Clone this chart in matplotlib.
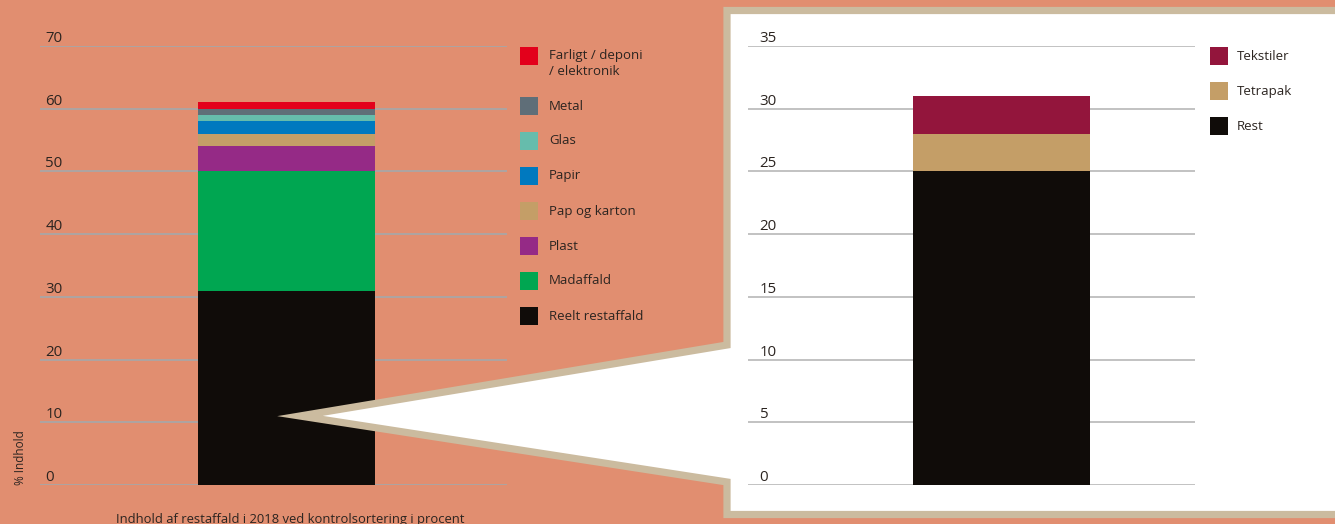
import matplotlib.pyplot as plt
from matplotlib.patches import Polygon, Rectangle
from matplotlib.transforms import blended_transform_factory

plt.rcParams['font.family'] = ['Open Sans', 'DejaVu Sans']

# venstre søjle: indhold af restaffald (nederst -> øverst)
kategorier = ["Reelt restaffald", "Madaffald", "Plast", "Pap og karton", "Papir",
              "Glas", "Metal", "Farligt / deponi\n/ elektronik"]
andele = [31, 19, 4, 2, 2, 1, 1, 1]
farver = ["#100C09", "#00A651", "#952A86", "#C49E67", "#0079BF",
          "#66BCAC", "#5F6E78", "#E3001B"]
venstre_ticks = [0, 10, 20, 30, 40, 50, 60, 70]

# højre søjle: fordeling af reelt restaffald
rest_kategorier = ["Rest", "Tetrapak", "Tekstiler"]
rest_andele = [25, 3, 3]
rest_farver = ["#100C09", "#C49E67", "#93153C"]
hojre_ticks = [0, 5, 10, 15, 20, 25, 30, 35]

BG = "#E18E70"
TXT = "#2b2420"
W, H = 1335, 524

fig = plt.figure(figsize=(W / 100, H / 100), dpi=100, facecolor=BG)


def px_axes(x0, x1, ytop, ybot):
    return fig.add_axes([x0 / W, 1 - ybot / H, (x1 - x0) / W, (ybot - ytop) / H])


def setup(ax, ticks, gridcol, xoff):
    ax.set_facecolor("none")
    ax.set_xlim(0, 1)
    ax.set_ylim(ticks[0], ticks[-1])
    for s in ax.spines.values():
        s.set_visible(False)
    ax.set_xticks([])
    ax.set_yticks([])
    tr = blended_transform_factory(ax.transAxes, ax.transData)
    for t in ticks:
        ax.axhline(t, color=gridcol, lw=1.3, zorder=0)
        ax.text(xoff, t, str(t), transform=tr, ha="left", va="bottom",
                fontsize=10.8, color=TXT)


# venstre diagram
ax1 = px_axes(40, 507, 46, 485)
ax1.set_zorder(0)
setup(ax1, venstre_ticks, "#A9A6A6", 0.011)
bund = 0
for v, c in zip(andele, farver):
    ax1.bar(0.528, v, width=0.379, bottom=bund, color=c, zorder=2)
    bund += v

fig.text(290 / W, 1 - 523 / H, "Indhold af restaffald i 2018 ved kontrolsortering i procent",
         ha="center", va="baseline", fontsize=9.4, color=TXT)
fig.text(20 / W, 1 - 485 / H, "% Indhold", rotation=90, ha="center", va="bottom",
         fontsize=8.5, color=TXT)

# forklaring venstre
y = 47
for i, (navn, c) in enumerate(zip(kategorier[::-1], farver[::-1])):
    fig.add_artist(Rectangle((520 / W, 1 - (y + 18) / H), 18 / W, 18 / H,
                             transform=fig.transFigure, color=c, lw=0))
    if "\n" in navn:
        fig.text(549 / W, 1 - (y + 2) / H, navn, ha="left", va="top",
                 fontsize=9.5, color=TXT, linespacing=1.3)
    else:
        fig.text(549 / W, 1 - (y + 9) / H, navn, ha="left", va="center",
                 fontsize=9.5, color=TXT)
    y += 50 if i == 0 else 35

# hvid boks med pil
kant = [(1345, 10.5), (727, 10.5), (727, 345), (300, 416), (727, 482),
        (727, 514.5), (1345, 514.5)]
poly = Polygon([(x / W, 1 - yy / H) for x, yy in kant], closed=True,
               transform=fig.transFigure, facecolor="white", edgecolor="#CBBB9F",
               lw=5.2, joinstyle="miter", zorder=1)
fig.add_artist(poly)

# højre diagram
ax2 = px_axes(748, 1195, 46, 485)
ax2.set_zorder(2)
setup(ax2, hojre_ticks, "#BDBDBD", 0.026)
bund = 0
for v, c in zip(rest_andele, rest_farver):
    ax2.bar(0.567, v, width=0.396, bottom=bund, color=c, zorder=2)
    bund += v

y = 47
for navn, c in zip(rest_kategorier[::-1], rest_farver[::-1]):
    fig.add_artist(Rectangle((1210 / W, 1 - (y + 18) / H), 18 / W, 18 / H,
                             transform=fig.transFigure, color=c, lw=0, zorder=3))
    fig.text(1237 / W, 1 - (y + 9) / H, navn, ha="left", va="center",
             fontsize=9.5, color=TXT, zorder=3)
    y += 35

fig.savefig("out.png", dpi=100, facecolor=BG)
